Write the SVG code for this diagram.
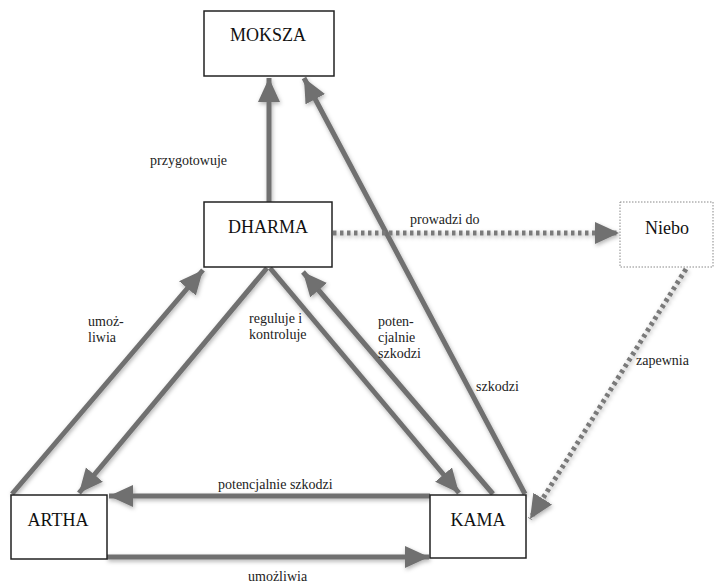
<svg xmlns="http://www.w3.org/2000/svg" width="716" height="586" viewBox="0 0 716 586">
<defs>
<style>
.box{fill:#fff;stroke:#222;stroke-width:1.5}
.dot{fill:#fff;stroke:#888;stroke-width:1;stroke-dasharray:1.5 1.5}
.nt{font-size:18px;fill:#111;text-anchor:middle}
.lb{font-size:14px;fill:#222}
.ar{fill:none;stroke:#6f6f6f;stroke-width:5;marker-end:url(#h)}
.ad{fill:none;stroke:#7a7a7a;stroke-width:5;stroke-dasharray:3.5 3.5;marker-end:url(#h)}
</style>
<marker id="h" markerUnits="userSpaceOnUse" markerWidth="26" markerHeight="24" refX="24" refY="11" orient="auto">
<path d="M0,0 L24,11 L0,22 z" fill="#6f6f6f"/>
</marker>
<filter id="sh" x="-10%" y="-10%" width="120%" height="120%">
<feDropShadow dx="1" dy="2" stdDeviation="2" flood-color="#000" flood-opacity="0.3"/>
</filter>
</defs>
<g id="connectors" filter="url(#sh)">
<line class="ar" x1="269" y1="202" x2="269" y2="78"/>
<line class="ar" x1="525" y1="494" x2="304" y2="78"/>
<line class="ad" x1="333" y1="233" x2="619" y2="233"/>
<line class="ad" x1="686" y1="269" x2="530" y2="519"/>
<line class="ar" x1="12" y1="494" x2="203" y2="270"/>
<line class="ar" x1="267" y1="268" x2="79" y2="493"/>
<line class="ar" x1="270" y1="268" x2="459" y2="493"/>
<line class="ar" x1="493" y1="494" x2="303" y2="272"/>
<line class="ar" x1="430" y1="496" x2="109" y2="496"/>
<line class="ar" x1="107" y1="557" x2="429" y2="557"/>
</g>
<g id="labels" font-family="Liberation Serif, DejaVu Serif, serif">
<text class="lb" x="150" y="165">przygotowuje</text>
<text class="lb" x="410" y="224">prowadzi do</text>
<text class="lb" x="88" y="326">umoż-</text>
<text class="lb" x="88" y="342">liwia</text>
<text class="lb" x="249" y="323">reguluje i</text>
<text class="lb" x="249" y="339">kontroluje</text>
<text class="lb" x="378" y="326">poten-</text>
<text class="lb" x="378" y="342">cjalnie</text>
<text class="lb" x="378" y="358">szkodzi</text>
<text class="lb" x="476" y="391">szkodzi</text>
<text class="lb" x="636" y="365">zapewnia</text>
<text class="lb" x="218" y="489">potencjalnie szkodzi</text>
<text class="lb" x="248" y="581">umożliwia</text>
</g>
<g id="nodes" font-family="Liberation Serif, DejaVu Serif, serif">
<g id="moksza"><rect class="box" x="204" y="11" width="130" height="65"/><text class="nt" x="268" y="41">MOKSZA</text></g>
<g id="dharma"><rect class="box" x="204" y="202" width="128" height="65"/><text class="nt" x="268" y="233">DHARMA</text></g>
<g id="niebo"><rect class="dot" x="620" y="202" width="93" height="65"/><text class="nt" x="667" y="234">Niebo</text></g>
<g id="artha"><rect class="box" x="11" y="495" width="96" height="64"/><text class="nt" x="58" y="526">ARTHA</text></g>
<g id="kama"><rect class="box" x="430" y="495" width="96" height="63"/><text class="nt" x="478" y="526">KAMA</text></g>
</g>
</svg>
